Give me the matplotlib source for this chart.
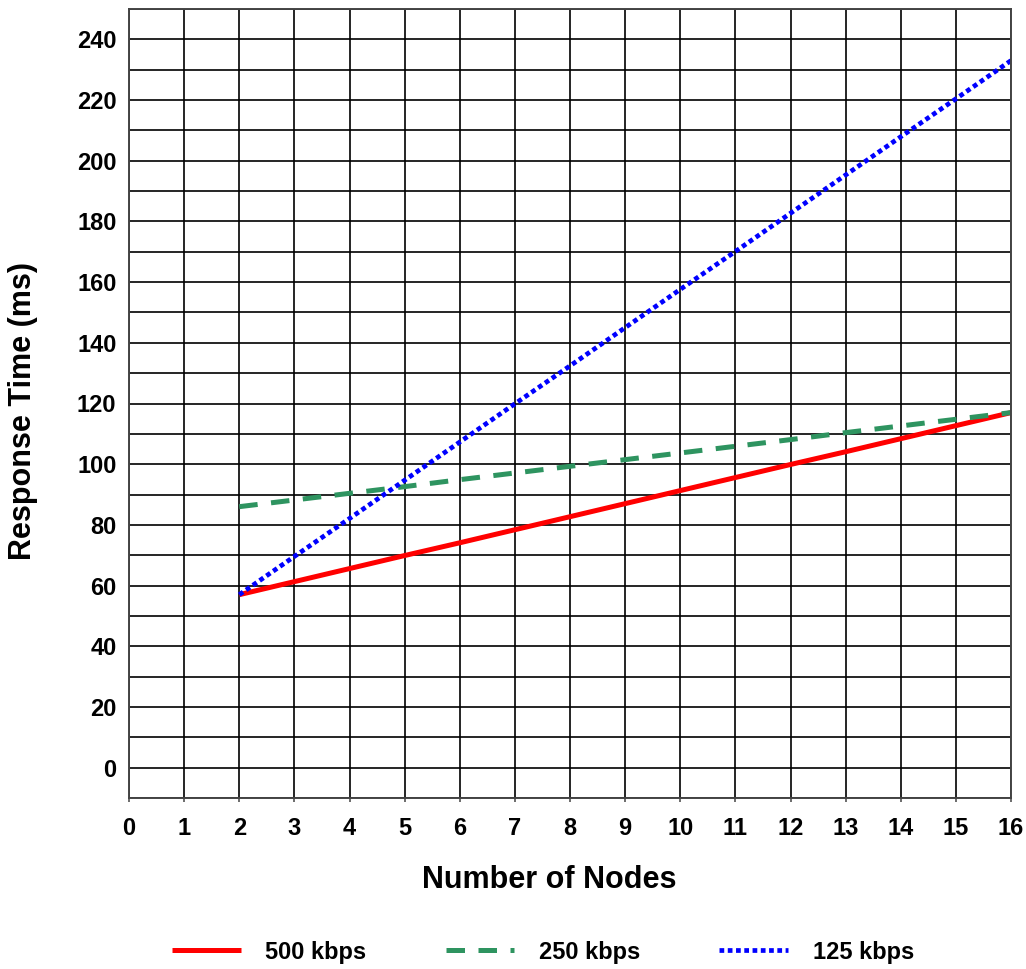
import matplotlib
matplotlib.use("Agg")
import matplotlib.pyplot as plt
import numpy as np

plt.rcParams['font.family'] = ['Liberation Sans', 'DejaVu Sans']
plt.rcParams['font.weight'] = 'bold'

nodes = [2, 3, 4, 5, 6, 7, 8, 9, 10, 11, 12, 13, 14, 15, 16]
rt_500 = [57.0, 61.3, 65.6, 69.9, 74.1, 78.4, 82.7, 87.0, 91.3, 95.6, 99.9, 104.1, 108.4, 112.7, 117.0]
rt_250 = [86.0, 88.2, 90.4, 92.6, 94.9, 97.1, 99.3, 101.5, 103.7, 105.9, 108.1, 110.4, 112.6, 114.8, 117.0]
rt_125 = [57.0, 69.6, 82.1, 94.7, 107.3, 119.9, 132.4, 145.0, 157.6, 170.1, 182.7, 195.3, 207.9, 220.4, 233.0]
series_labels = ['500 kbps', '250 kbps', '125 kbps']
x_ticks = list(range(0, 17))
y_ticks = list(range(0, 241, 20))

fig = plt.figure(figsize=(10.26, 9.69), dpi=100)
ax = fig.add_axes([129/1026, 1 - 798/969, (1011-129)/1026, (798-9)/969])

ax.set_xlim(0, 16)
ax.set_ylim(-10, 250)
ax.set_xticks(x_ticks)
ax.set_yticks(y_ticks)
ax.set_yticks(np.arange(-10, 251, 10), minor=True)
ax.grid(True, which='both', axis='y', color='black', linewidth=1.2)
ax.grid(True, which='major', axis='x', color='black', linewidth=1.2)
ax.set_axisbelow(True)

for s in ax.spines.values():
    s.set_color('#444444')
    s.set_linewidth(1.4)

ax.tick_params(axis='y', which='both', length=0, pad=9, labelsize=17)
ax.tick_params(axis='x', which='major', length=3, width=1.1, color='#444444', pad=11, labelsize=17)
for lab in ax.get_xticklabels() + ax.get_yticklabels():
    lab.set_fontweight('bold')

l1, = ax.plot(nodes, rt_500, color='#FF0000', linewidth=3.6, solid_capstyle='butt', label=series_labels[0])
l2, = ax.plot(nodes, rt_250, color='#2E9460', linewidth=3.6, linestyle=(0, (3.7, 2.7)), dash_capstyle='butt', label=series_labels[1])
l3, = ax.plot(nodes, rt_125, color='#0000FF', linewidth=3.4, linestyle=(0, (1.0, 0.75)), dash_capstyle='butt', label=series_labels[2])

ax.set_xlabel('Number of Nodes', fontsize=22, fontweight='bold')
ax.xaxis.set_label_coords((549-129)/882, (798-880)/789)
ax.xaxis.label.set_va('center')
ax.set_ylabel('Response Time (ms)', fontsize=22, fontweight='bold')
ax.yaxis.set_label_coords((23-129)/882, (798-411)/789)
ax.yaxis.label.set_va('center')

fig.legend(handles=[l1, l2, l3], loc='center', bbox_to_anchor=(543/1026, 1 - 952/969),
           ncol=3, frameon=False, prop={'size': 17, 'weight': 'bold'},
           handlelength=2.9, handletextpad=1.05, columnspacing=3.35)

fig.savefig('out.png', dpi=100)
